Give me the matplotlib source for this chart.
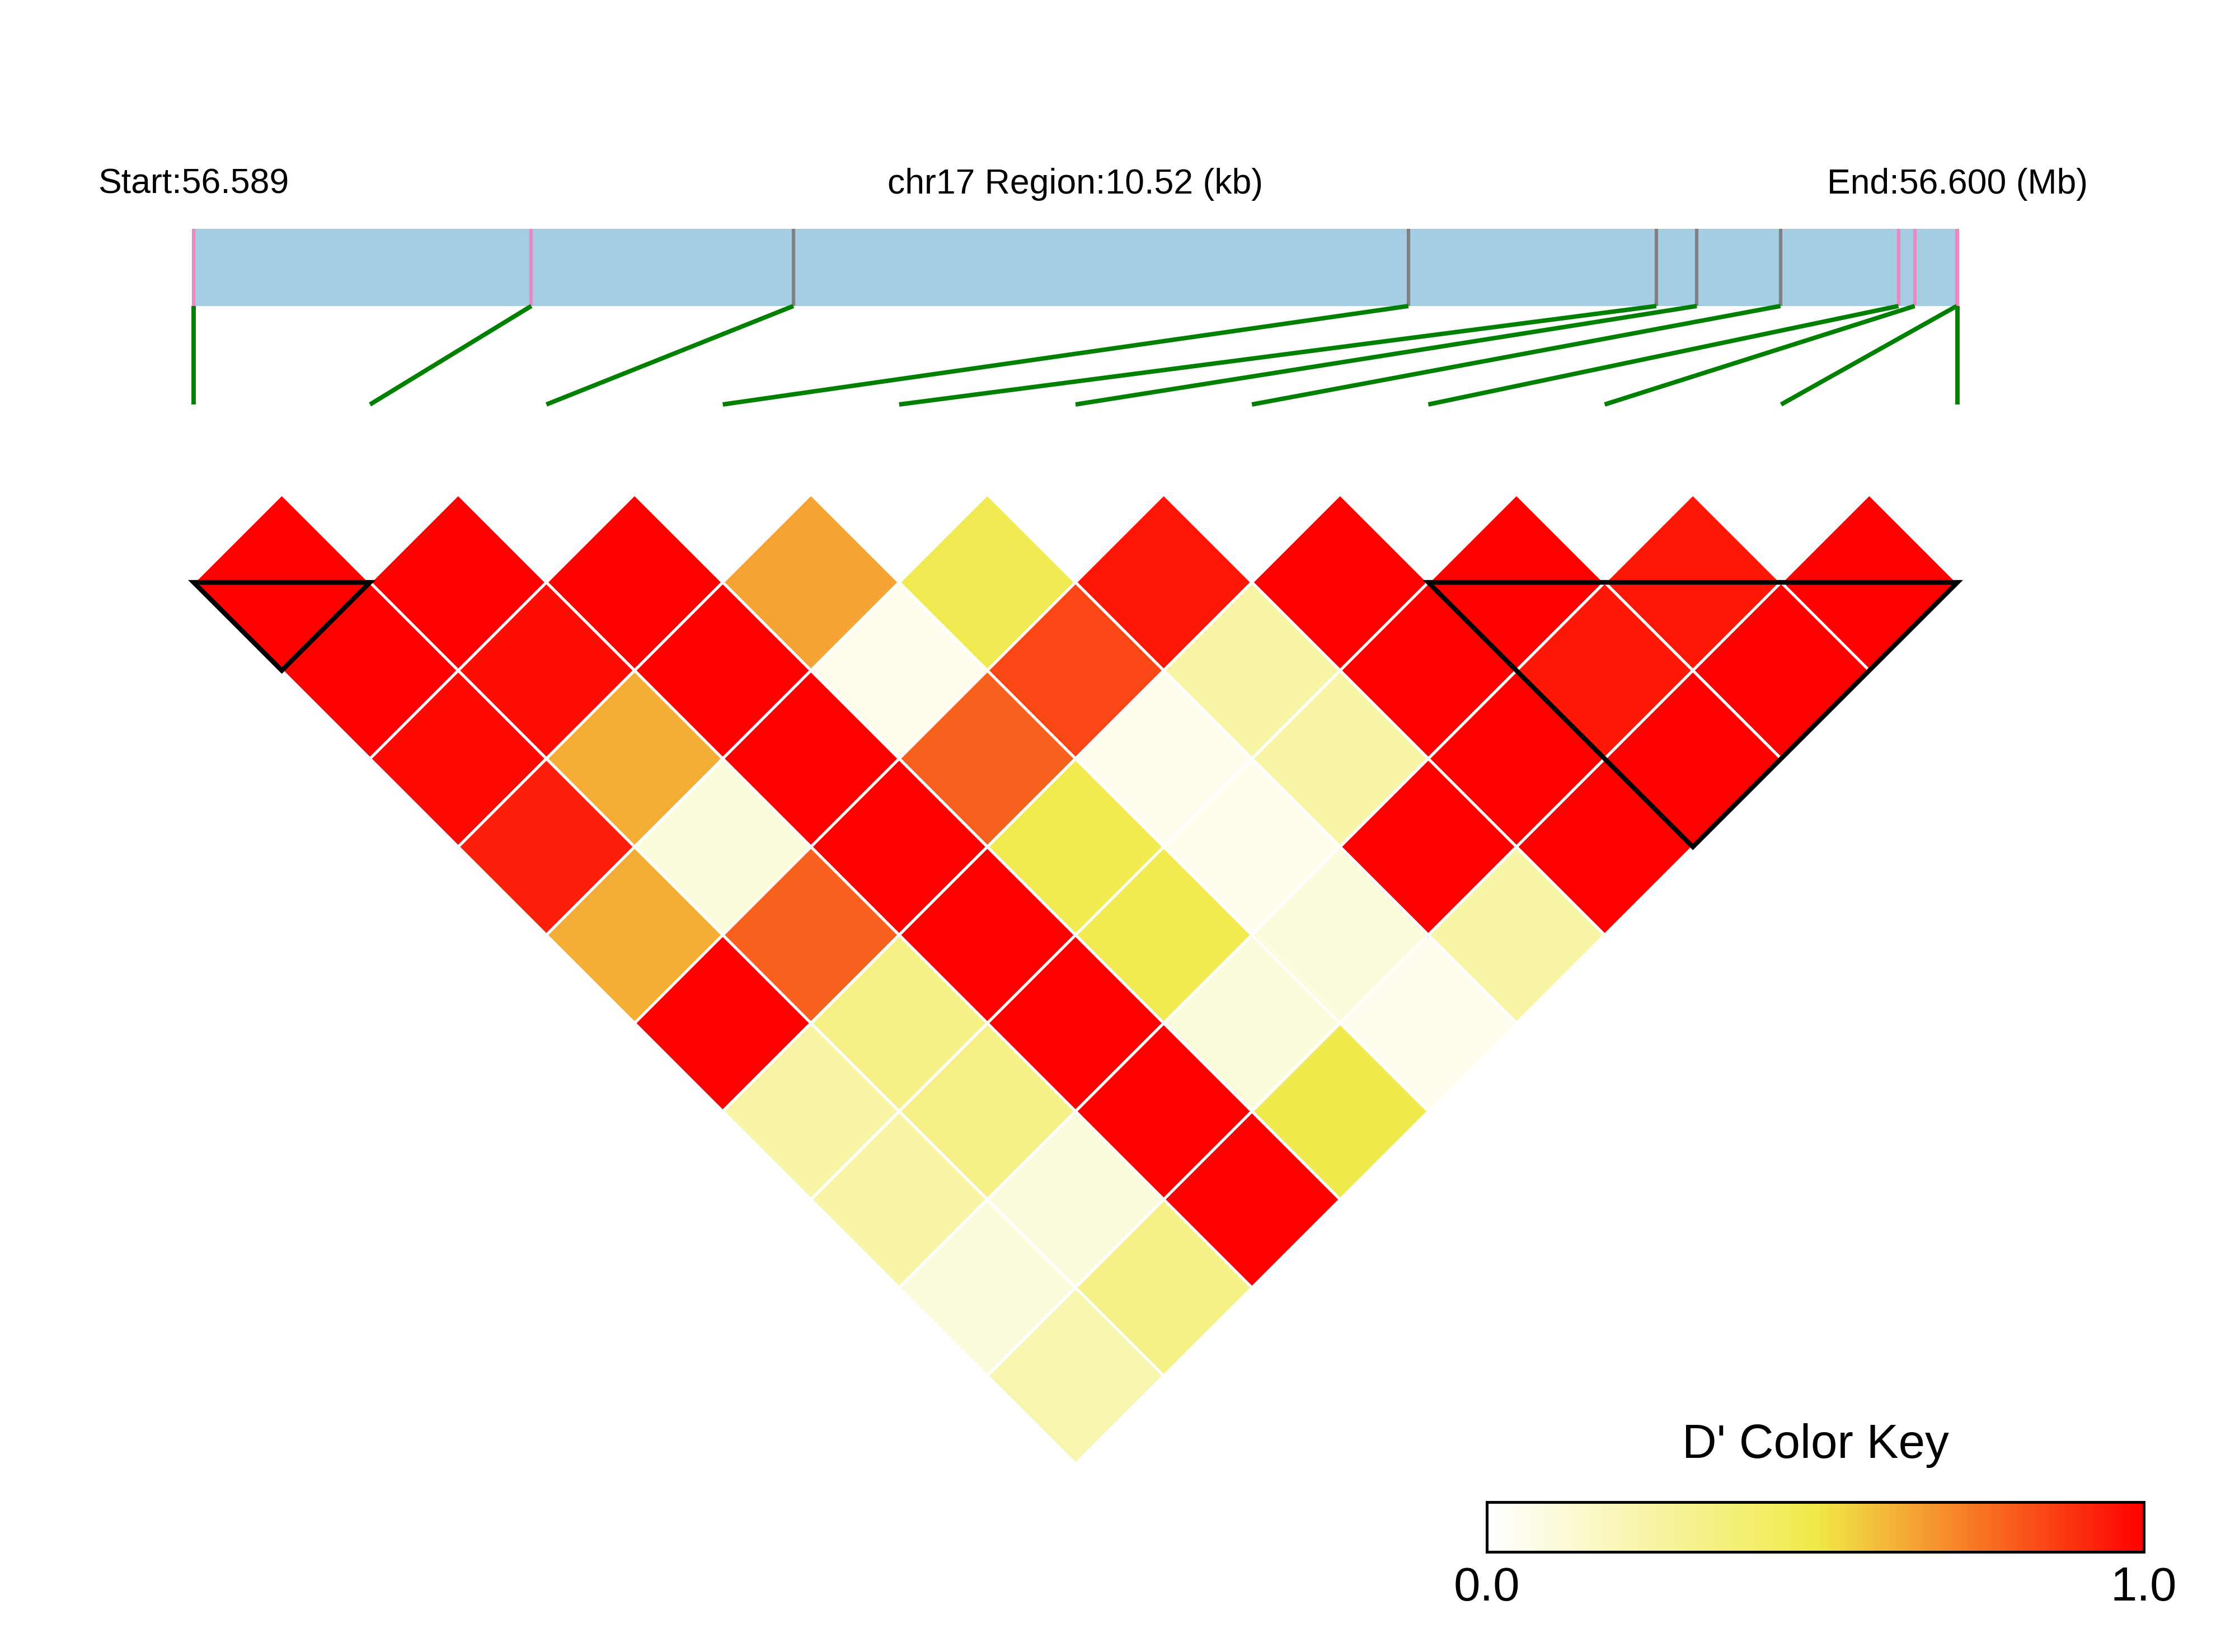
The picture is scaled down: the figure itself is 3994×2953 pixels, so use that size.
import matplotlib
matplotlib.use('Agg')
import matplotlib.pyplot as plt
import numpy as np
from matplotlib.patches import Polygon, Rectangle
from matplotlib.collections import PatchCollection, LineCollection
from matplotlib.colors import LinearSegmentedColormap, Normalize
from matplotlib.cm import ScalarMappable

plt.rcParams['font.family'] = ['Liberation Sans', 'DejaVu Sans']

# ---- data ----
chrom = 'chr17'
region_start = 56589150
region_end = 56599670
snp_pos = [56589150, 56591164, 56592727, 56596395, 56597874, 56598115,
           56598614, 56599318, 56599415, 56599666, 56599670]
blocks = [(0, 1), (7, 10)]   # first / last SNP index of each LD block

# D' values, one list per diagonal: offset 1 (neighbours), offset 2, ...
dprime_d1 = [1.0, 1.0, 1.0, 0.65, 0.47, 0.95, 1.0, 1.0, 0.95, 1.0]
dprime_d2 = [1.0, 0.97, 1.0, 0.05, 0.85, 0.24, 1.0, 0.95, 1.0]
dprime_d3 = [0.98, 0.63, 1.0, 0.79, 0.05, 0.24, 1.0, 1.0]
dprime_d4 = [0.93, 0.10, 1.0, 0.48, 0.05, 1.0, 1.0]
dprime_d5 = [0.63, 0.79, 1.0, 0.48, 0.10, 0.24]
dprime_d6 = [1.0, 0.33, 1.0, 0.10, 0.05]
dprime_d7 = [0.24, 0.33, 1.0, 0.49]
dprime_d8 = [0.24, 0.10, 1.0]
dprime_d9 = [0.10, 0.33]
dprime_d10 = [0.22]
dprime_diags = [dprime_d1, dprime_d2, dprime_d3, dprime_d4, dprime_d5,
                dprime_d6, dprime_d7, dprime_d8, dprime_d9, dprime_d10]

# ---- layout (pixel units of the output image) ----
W, H = 3994, 2953
x_left, x_right = 346, 3498
bar_top, bar_bot = 409, 547
link_bot = 723
heat_top = 1041

cmap = LinearSegmentedColormap.from_list(
    'ld', [(0.0, '#FFFFFF'), (0.5, '#F0EA48'), (1.0, '#FF0000')])
norm = Normalize(0, 1)

fig = plt.figure(figsize=(W / 300, H / 300), dpi=300)
ax = fig.add_axes([0, 0, 1, 1])
ax.set_xlim(0, W)
ax.set_ylim(H, 0)
ax.axis('off')

n = len(snp_pos)
span = region_end - region_start
phys_x = [x_left + (p - region_start) / span * (x_right - x_left) for p in snp_pos]
step = (x_right - x_left) / (n - 1)
eq_x = [x_left + i * step for i in range(n)]
h = step / 2

# gene/region bar
ax.add_patch(Rectangle((x_left, bar_top), x_right - x_left, bar_bot - bar_top,
                       facecolor='#A6CEE3', lw=0))
in_block = set()
for a, b in blocks:
    in_block.update(range(a, b + 1))
tick_cols = ['#E78AC3' if i in in_block else '#808080' for i in range(n)]
ax.vlines(phys_x, bar_top, bar_bot, colors=tick_cols, lw=1.5)

# links from physical position to heatmap position
segs = [[(phys_x[i], bar_bot), (eq_x[i], link_bot)] for i in range(n)]
ax.add_collection(LineCollection(segs, colors='#008000', lw=1.9))

# LD heatmap diamonds
polys, vals = [], []
for k, diag in enumerate(dprime_diags):
    for i, v in enumerate(diag):
        j = i + k + 1
        cx = x_left + h * (i + j)
        cy = heat_top + h * k
        polys.append(Polygon([(cx, cy - h), (cx + h, cy), (cx, cy + h), (cx - h, cy)]))
        vals.append(v)
pc = PatchCollection(polys, cmap=cmap, norm=norm, edgecolor='white', linewidth=1.2)
pc.set_array(np.array(vals))
ax.add_collection(pc)

# block outlines
for a, b in blocks:
    xa, xb = eq_x[a], eq_x[b]
    ax.add_patch(Polygon([(xa, heat_top), (xb, heat_top),
                          ((xa + xb) / 2, heat_top + (xb - xa) / 2)],
                         closed=True, fill=False, edgecolor='black', lw=2,
                         joinstyle='miter'))

# header texts
ax.text(x_left, 346, f'Start:{region_start / 1e6:.3f}', ha='center', va='baseline', fontsize=15)
ax.text((x_left + x_right) / 2, 346, f'{chrom} Region:{span / 1000:.2f} (kb)',
        ha='center', va='baseline', fontsize=15)
ax.text(x_right, 346, f'End:{region_end / 1e6:.3f} (Mb)', ha='center', va='baseline', fontsize=15)

# colour key
cb_l, cb_r, cb_t, cb_b = 2657, 3831, 2685, 2774
cax = fig.add_axes([cb_l / W, 1 - cb_b / H, (cb_r - cb_l) / W, (cb_b - cb_t) / H])
cb = fig.colorbar(ScalarMappable(norm=norm, cmap=cmap), cax=cax, orientation='horizontal')
cb.set_ticks([0, 1])
cb.set_ticklabels(['0.0', '1.0'])
cax.tick_params(length=0, labelsize=20.5, pad=6)
cb.outline.set_linewidth(1.2)
ax.text((cb_l + cb_r) / 2, 2606, "D' Color Key", ha='center', va='baseline', fontsize=20.5)

fig.savefig('out.png', dpi=300)
